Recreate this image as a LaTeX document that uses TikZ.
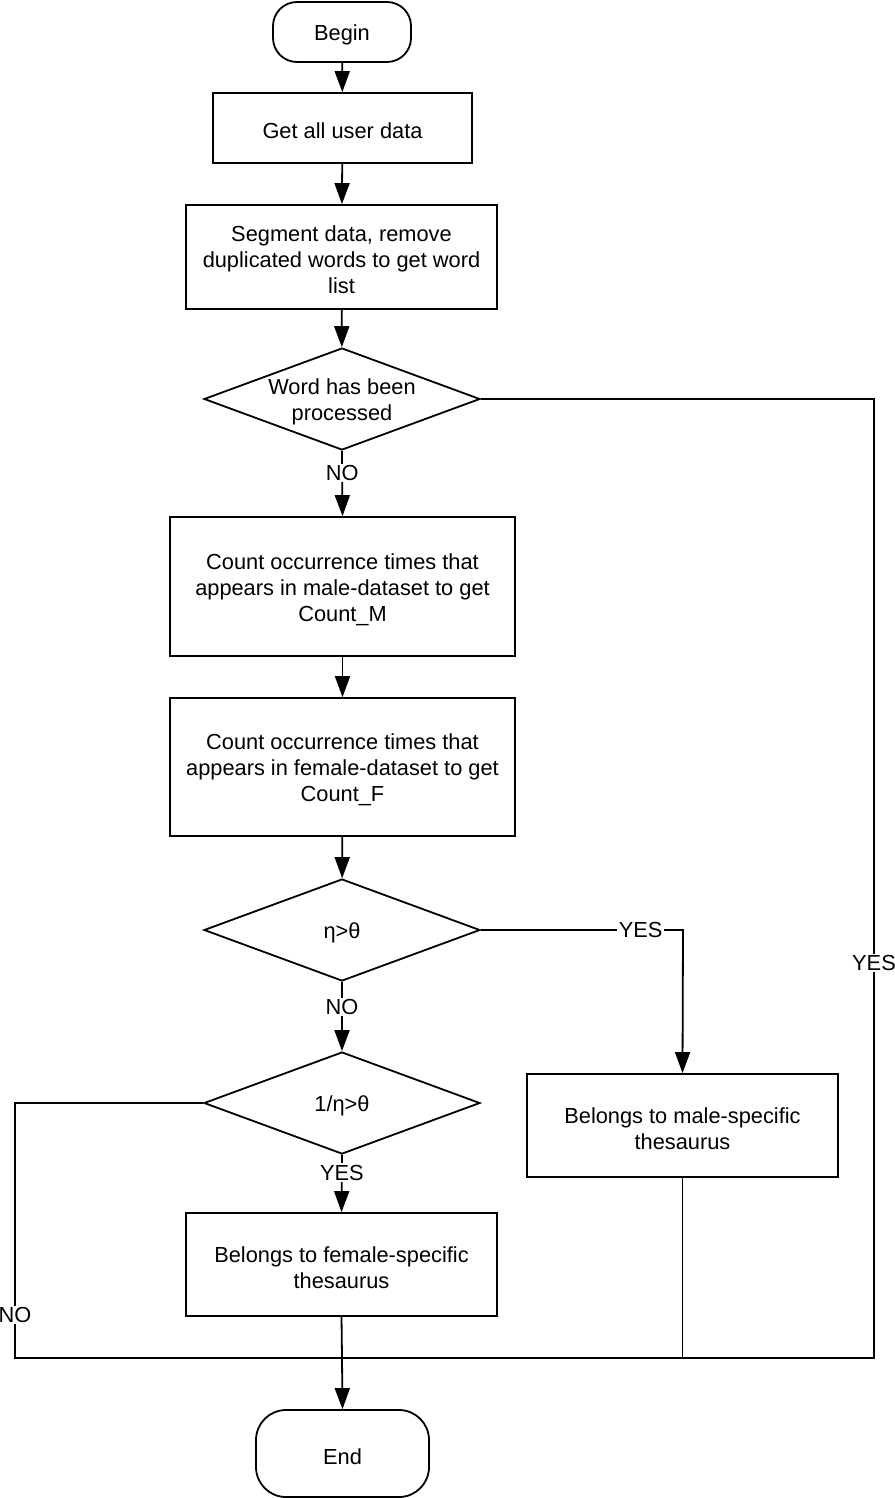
\documentclass[tikz,border=0pt]{standalone}
\usepackage{fontspec}
\setmainfont{Liberation Sans}
\usetikzlibrary{shapes.geometric,arrows.meta}
\newcommand\tl{\rule{0pt}{22pt}}
\begin{document}
\begin{tikzpicture}[x=1pt,y=-1pt,
  every node/.style={font=\fontsize{21.8}{26}\selectfont},
  stepbox/.style={draw,line width=1.8pt,rectangle,inner sep=0pt,align=center},
  termbox/.style={draw,line width=1.8pt,rectangle,rounded corners=24pt,inner sep=0pt,align=center},
  decbox/.style={draw,line width=1.8pt,diamond,inner ysep=0pt,inner xsep=-18pt,shape aspect=2.7,
     minimum width=276pt,minimum height=102pt,align=center},
  lbl/.style={fill=white,inner sep=1.5pt},
  conn/.style={line width=1.8pt},
  arr/.style={conn,-{Triangle[length=21pt,width=15pt]}}]
\useasboundingbox (0,0) rectangle (894,1498);
\node[termbox,minimum width=138pt,minimum height=60pt] (begin) at (342,32) {\tl Begin};
\node[stepbox,minimum width=259pt,minimum height=70pt] (get) at (342.5,128) {\tl Get all user data};
\node[stepbox,minimum width=311pt,minimum height=104pt] (seg) at (341.5,257) {\tl Segment data, remove\\duplicated words to get word\\list};
\node[decbox] (d1) at (342,399) {\tl Word has been\\processed};
\node[stepbox,minimum width=345pt,minimum height=139pt] (cm) at (342.5,586.5) {\tl Count occurrence times that\\appears in male-dataset to get\\Count\_M};
\node[stepbox,minimum width=345pt,minimum height=138pt] (cf) at (342.5,767) {\tl Count occurrence times that\\appears in female-dataset to get\\Count\_F};
\node[decbox] (d2) at (342,930) {\tl η>θ};
\node[decbox] (d3) at (342,1103) {\tl 1/η>θ};
\node[stepbox,minimum width=311pt,minimum height=103pt] (fem) at (341.5,1264.5) {\tl Belongs to female-specific\\thesaurus};
\node[stepbox,minimum width=311pt,minimum height=103pt] (male) at (682.5,1125.5) {\tl Belongs to male-specific\\thesaurus};
\node[termbox,rounded corners=30pt,minimum width=173pt,minimum height=87pt] (end) at (342.5,1453.5) {\tl End};
\coordinate (jm) at (342,1358);
\coordinate (jl) at (15,1358);
\coordinate (jr) at (874,1358);
\coordinate (c2) at (683,930);
\draw[arr] (begin) -- (get);
\draw[arr] (get) -- (seg);
\draw[arr] (seg) -- (d1);
\draw[arr] (d1.south) -- node[lbl,pos=0.34]{NO} (cm.north);
\draw[arr] (cm) -- (cf);
\draw[arr] (cf) -- (d2);
\draw[arr] (d2.south) -- node[lbl,pos=0.36]{NO} (d3.north);
\draw[arr] (d3.south) -- node[lbl,pos=0.31]{YES} (fem.north);
\draw[arr] (d2.east) -- node[lbl,pos=0.79]{YES} (c2) -- (male.north);
\draw[conn] (d1.east) -| node[lbl,pos=0.794]{YES} (jr) -- (jm);
\draw[conn] (d3.west) -| node[lbl,pos=0.916]{NO} (jl) -- (jm);
\draw[conn] (male.south) -- (male.south |- jm);
\draw[conn] (fem.south) -- (jm);
\draw[arr] (jm) -- (end.north);
\end{tikzpicture}
\end{document}
